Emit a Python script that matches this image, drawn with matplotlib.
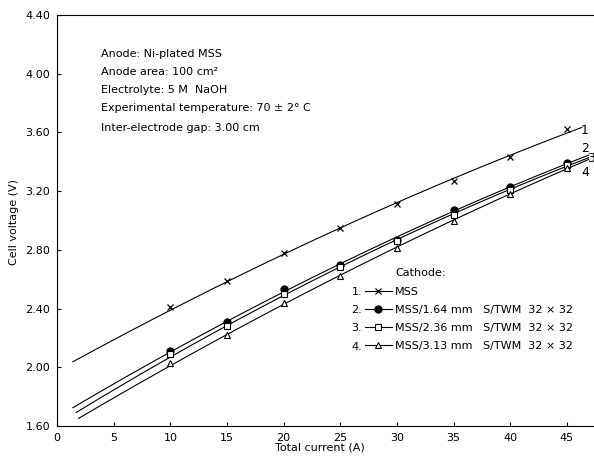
import numpy as np
import matplotlib
matplotlib.use("Agg")
import matplotlib.pyplot as plt
from matplotlib.lines import Line2D

# ---- data ----
current = [10, 15, 20, 25, 30, 35, 40, 45]
v_mss = [2.41, 2.59, 2.78, 2.95, 3.11, 3.27, 3.43, 3.62]
v_164 = [2.11, 2.31, 2.53, 2.70, 2.87, 3.07, 3.23, 3.39]
v_236 = [2.09, 2.28, 2.50, 2.68, 2.86, 3.04, 3.21, 3.38]
v_313 = [2.03, 2.22, 2.44, 2.62, 2.81, 3.00, 3.18, 3.36]
series = [v_mss, v_164, v_236, v_313]
# fitted-curve extents: start current, start voltage, end current
curve_x0 = [1.4, 1.4, 1.7, 1.9]
curve_y0 = [2.02, 1.72, 1.68, 1.64]
curve_x1 = [46.3, 46.9, 46.9, 46.9]
labels = ["MSS",
          "MSS/1.64 mm   S/TWM  32 \u00d7 32",
          "MSS/2.36 mm   S/TWM  32 \u00d7 32",
          "MSS/3.13 mm   S/TWM  32 \u00d7 32"]
numbers = ["1", "2", "3", "4"]
xticks = [0, 5, 10, 15, 20, 25, 30, 35, 40, 45]
yticks = [1.60, 2.00, 2.40, 2.80, 3.20, 3.60, 4.00, 4.40]
info = ["Anode: Ni-plated MSS",
        "Anode area: 100 cm\u00b2",
        "Electrolyte: 5 M  NaOH",
        "Experimental temperature: 70 \u00b1 2\u00b0 C",
        "Inter-electrode gap: 3.00 cm"]

markers = [dict(marker="x", ms=4.5, mew=0.9, mfc="black"),
           dict(marker="o", ms=5, mfc="black"),
           dict(marker="s", ms=4, mfc="white", mew=0.8),
           dict(marker="^", ms=4, mfc="white", mew=0.8)]

plt.rcParams["font.family"] = ["DejaVu Sans"]
fig = plt.figure(figsize=(5.94, 4.58), dpi=100)
ax = fig.add_axes([57 / 594, 1 - 426 / 458, 1 - 57 / 594, (426 - 15) / 458])

for i, vals in enumerate(series):
    fx = np.array([curve_x0[i]] + current)
    fy = np.array([curve_y0[i]] + vals)
    coef = np.polyfit(fx, fy, 2)
    xs = np.linspace(curve_x0[i], curve_x1[i], 200)
    ax.plot(xs, np.polyval(coef, xs), color="black", lw=0.8)
    ax.plot(current, vals, ls="none", color="black", **markers[i])

ax.set_xlim(0, (594 - 57) / 11.333)
ax.set_ylim(1.60, 4.40)
ax.set_xticks(xticks)
ax.set_xticklabels([str(t) for t in xticks])
ax.set_yticks(yticks)
ax.set_yticklabels([f"{t:.2f}" for t in yticks])
ax.tick_params(direction="in", length=3, width=0.8, labelsize=8, colors="black")
ax.tick_params(axis="x", pad=5)
ax.tick_params(axis="y", pad=5)
ax.spines["right"].set_visible(False)
for s in ["left", "top", "bottom"]:
    ax.spines[s].set_linewidth(0.8)

fig.text(14 / 594, 1 - 222 / 458, "Cell voltage (V)", rotation=90,
         ha="center", va="center", fontsize=8)
fig.text(320 / 594, 1 - 448 / 458, "Total current (A)", ha="center",
         va="center", fontsize=8)

info_y = [54, 72, 90, 108, 128]
for t, y in zip(info, info_y):
    fig.text(101 / 594, 1 - y / 458, t, ha="left", va="center", fontsize=8)

# curve end numbers
num_pos = [(585, 130), (585, 149), (591, 158), (585, 172)]
for n, (px, py) in zip(numbers, num_pos):
    fig.text(px / 594, 1 - py / 458, n, ha="center", va="center", fontsize=9)

# legend
handles = [Line2D([0], [0], color="black", lw=0.8, **m) for m in markers]
leg = ax.legend(handles, labels, loc="upper left",
                bbox_to_anchor=(365 / 594, 1 - 287 / 458),
                bbox_transform=fig.transFigure, frameon=False,
                fontsize=8, handlelength=2.4, handletextpad=0.3,
                labelspacing=0.72, borderpad=0, borderaxespad=0)
fig.text(395 / 594, 1 - 273 / 458, "Cathode:", ha="left", va="center", fontsize=8)
leg_y = [292, 310, 328, 347]
for n, y in zip(numbers, leg_y):
    fig.text(362 / 594, 1 - y / 458, n + ".", ha="right", va="center", fontsize=8)

fig.savefig("out.png", dpi=100)
